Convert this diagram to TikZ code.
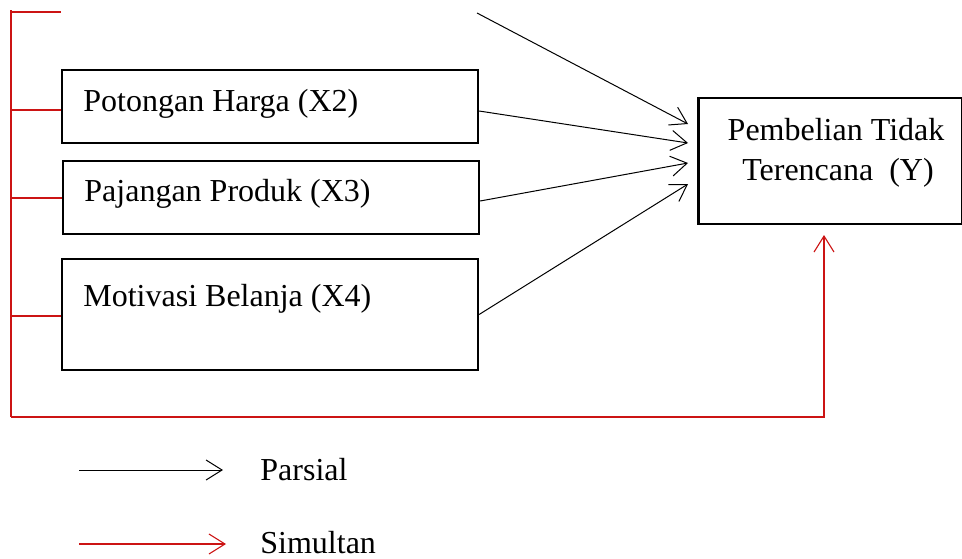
\documentclass[tikz,border=0pt]{standalone}
\usepackage{fontspec}
\setmainfont{Liberation Serif}
\usetikzlibrary{arrows.meta,calc}
\definecolor{simred}{RGB}{204,20,20}
\begin{document}
\begin{tikzpicture}[x=0.5pt,y=-0.5pt,
  varbox/.style={draw=black,line width=1.1pt,rectangle,inner sep=0pt},
  lbl/.style={anchor=base west,inner sep=0pt,font=\fontsize{16}{19}\selectfont},
  parsial/.style={draw=black,line width=0.5pt,-{Straight Barb[length=8pt,width=10pt,line width=0.5pt]}},
  simultan/.style={draw=simred,line width=0.55pt},
  simarrow/.style={simultan,-{Straight Barb[length=8pt,width=10pt,line width=0.55pt]}}]
\useasboundingbox (0,0) rectangle (962,558);
% variable boxes
\node[varbox,minimum width=208pt,minimum height=36.5pt] (x2) at (270,106.5) {};
\node[varbox,minimum width=208pt,minimum height=36.5pt] (x3) at (271,197.5) {};
\node[varbox,minimum width=208pt,minimum height=55.5pt] (x4) at (270,314.5) {};
\node[varbox,minimum width=132pt,minimum height=63pt] (y) at (830.5,161) {};
% texts
\node[lbl] (x2t) at (83,111) {Potongan Harga (X2)};
\node[lbl] (x3t) at (84,201.5) {Pajangan Produk (X3)};
\node[lbl] (x4t) at (83,306.5) {Motivasi Belanja (X4)};
\node[font=\fontsize{16}{19}\selectfont,anchor=base,inner sep=0pt] (yt1) at (836,140) {Pembelian Tidak};
\node[font=\fontsize{16}{19}\selectfont,anchor=base,inner sep=0pt] (yt2) at (838,180) {Terencana~~(Y)};
% free ends
\coordinate (x1e) at (477,13);
\coordinate (x1w) at (61,12);
\coordinate (a1) at (688,124);
\coordinate (a2) at (688,143);
\coordinate (a3) at (688,163);
\coordinate (a4) at (688,184);
\coordinate (bt) at (11,10);
\coordinate (bb) at (11,417);
\coordinate (ycorner) at (824,417);
\coordinate (ytip) at (824,235);
% partial arrows
\draw[parsial] (x1e) -- (a1);
\draw[parsial] ($(x2.east)+(0,4.5)$) -- (a2);
\draw[parsial] ($(x3.east)+(0,3.5)$) -- (a3);
\draw[parsial] (x4.east) -- (a4);
% simultaneous bus
\draw[simultan] (bt) -- (bb);
\draw[simultan] (bt |- x1w) -- (x1w);
\draw[simultan] (11,110) -- (x2.west |- 0,110);
\draw[simultan] (11,198) -- (x3.west |- 0,198);
\draw[simultan] (11,316) -- (x4.west |- 0,316);
\draw[simarrow] (bb) -- (ycorner) -- (ytip);
% legend
\coordinate (lp1) at (79,470);
\coordinate (lp2) at (223,470);
\coordinate (ls1) at (79,544);
\coordinate (ls2) at (226,544);
\draw[parsial] (lp1) -- (lp2);
\draw[simarrow] (ls1) -- (ls2);
\node[lbl] (lpt) at (260,480) {Parsial};
\node[lbl] (lst) at (260,553) {Simultan};
\end{tikzpicture}
\end{document}
